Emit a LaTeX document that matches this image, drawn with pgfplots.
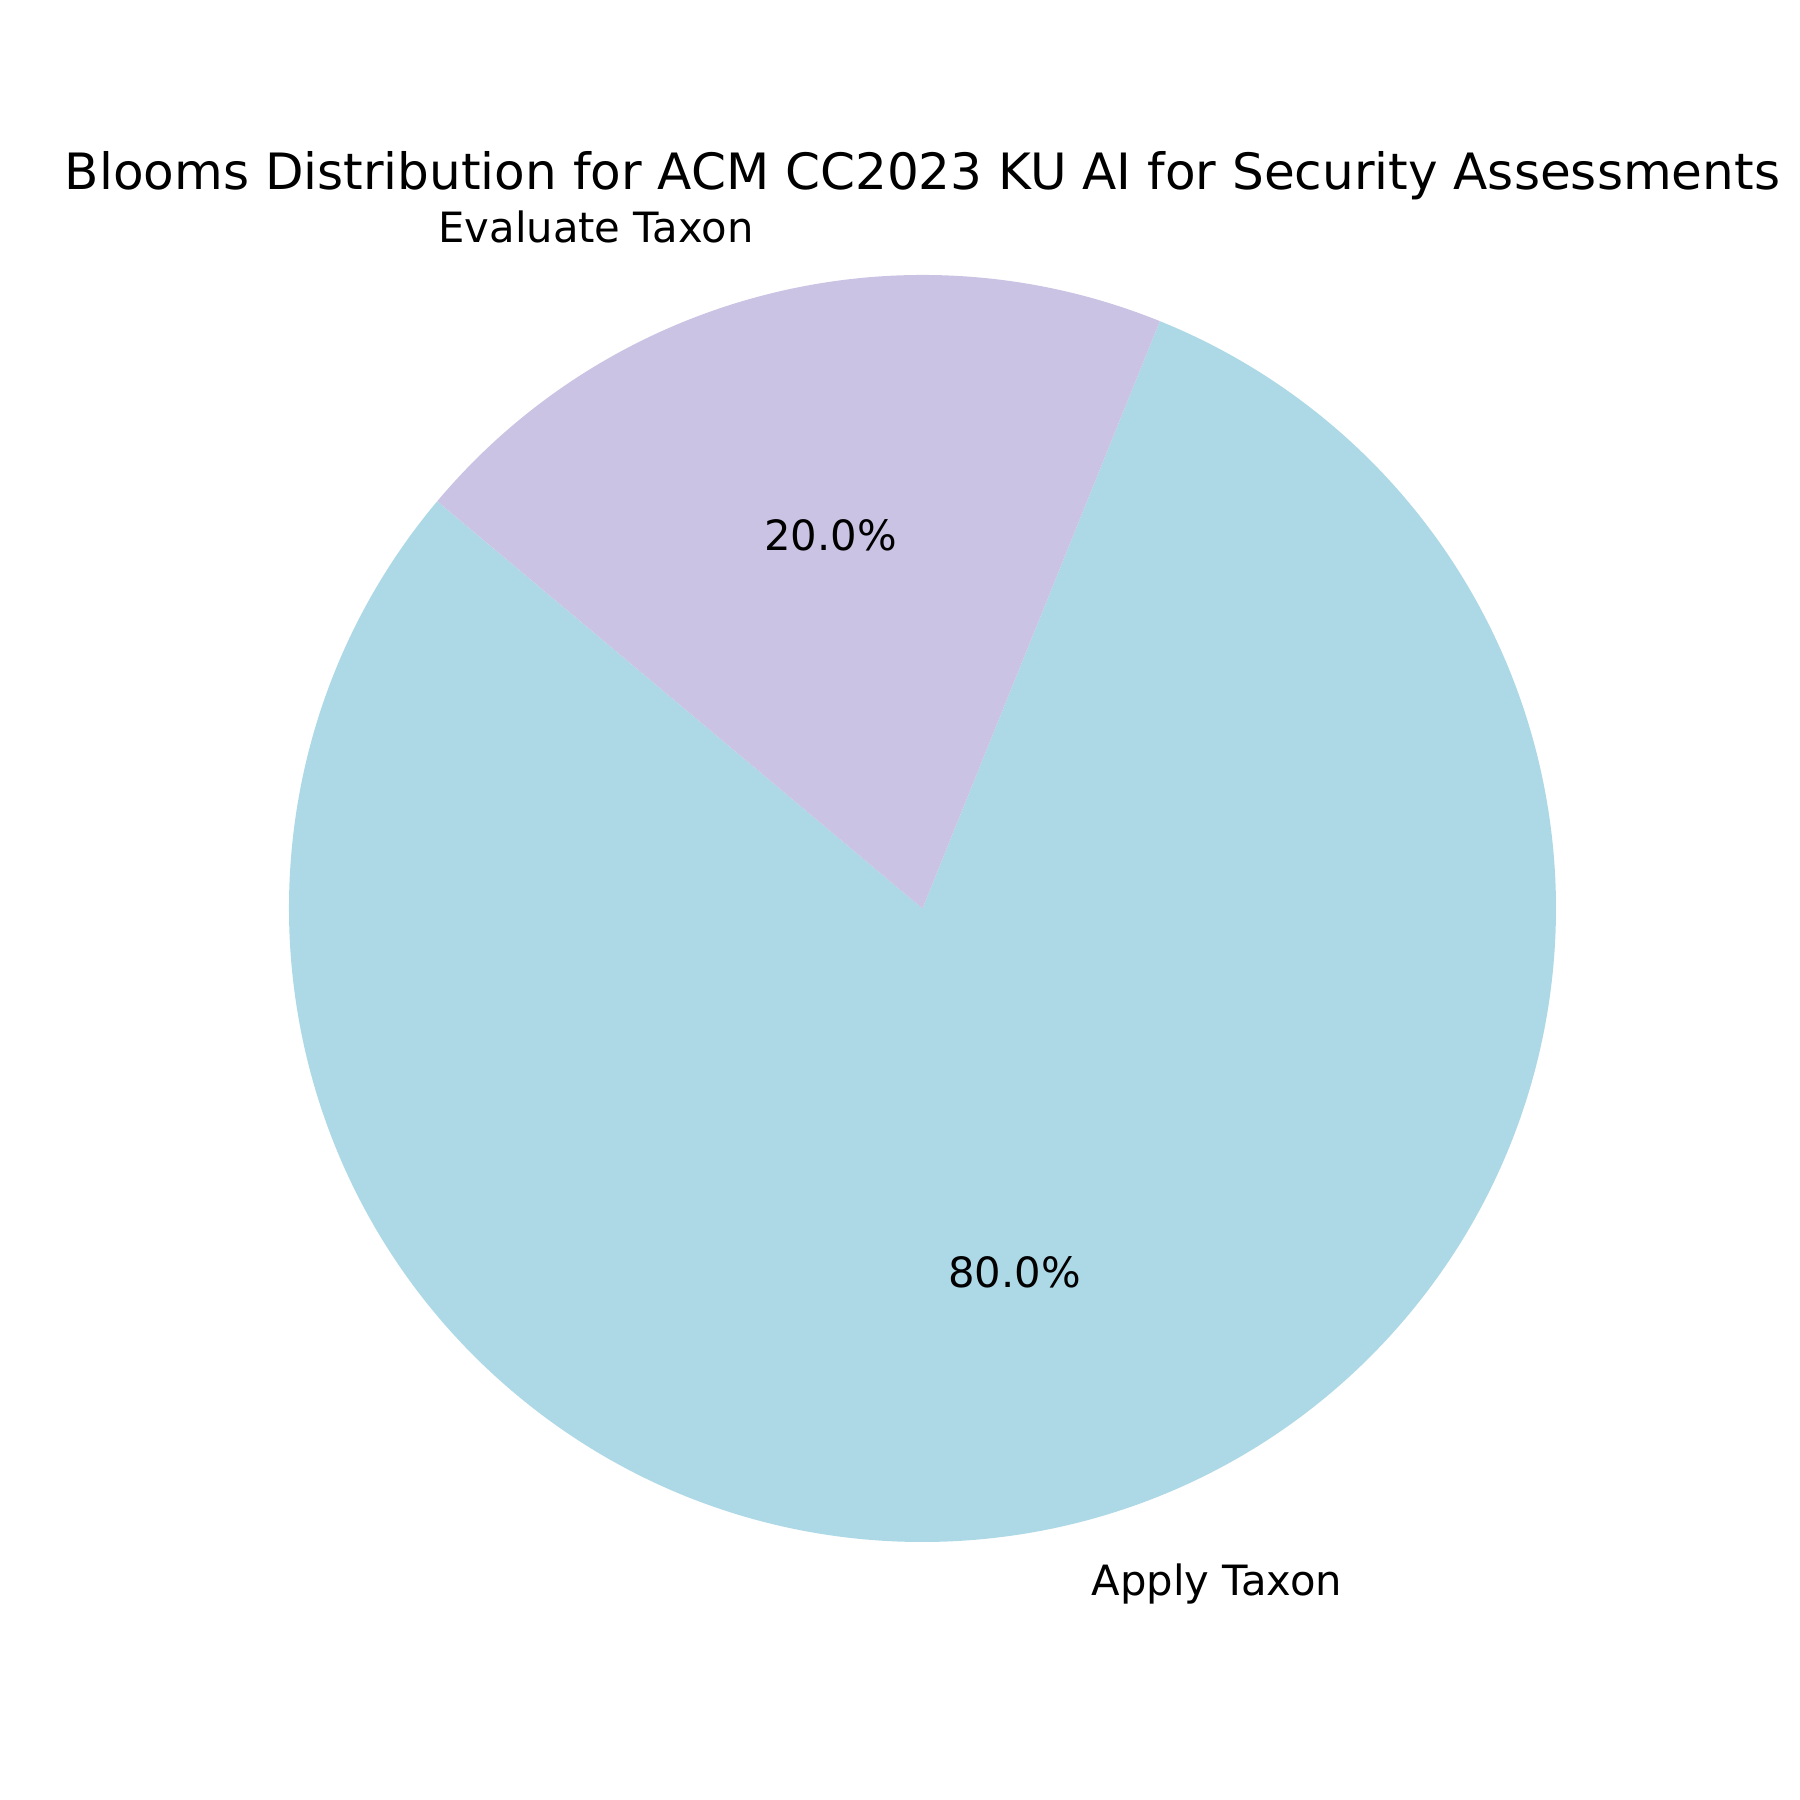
\documentclass[border=0pt]{standalone}
\usepackage{pgfplots}
\pgfplotsset{compat=1.18}
\usepackage{pgfplotstable}
\usepackage{fontspec}
\setmainfont{DejaVu Sans}

\definecolor{applyblue}{HTML}{ADD8E6}
\definecolor{evallav}{HTML}{CBC3E3}

\tikzset{
    lbl/.style={inner sep=0pt, text height=0.84em, text depth=0.16em,
        font=\fontsize{13.4}{16}\selectfont},
}
\pgfkeys{/pgf/number format/pct/.style={fixed, fixed zerofill, precision=1,
    assume math mode=true}}

% slice values (percent of outcomes)
\pgfplotstableread[col sep=comma]{
label,value
Apply Taxon,80
Evaluate Taxon,20
}\piedata

\begin{document}
\begin{tikzpicture}
% angles from the table, start at 140 deg, counterclockwise
\pgfplotstablegetelem{0}{value}\of\piedata \pgfmathsetmacro\va{\pgfplotsretval}
\pgfplotstablegetelem{1}{value}\of\piedata \pgfmathsetmacro\vb{\pgfplotsretval}
\pgfplotstablegetelem{0}{label}\of\piedata \let\la\pgfplotsretval
\pgfplotstablegetelem{1}{label}\of\piedata \let\lb\pgfplotsretval
\pgfmathsetmacro\tot{\va+\vb}
\pgfmathsetmacro\fa{\va/\tot}
\pgfmathsetmacro\fb{\vb/\tot}
\pgfmathsetmacro\aS{140}
\pgfmathsetmacro\aM{\aS+360*\fa}
\pgfmathsetmacro\aE{\aM+360*\fb}
\pgfmathsetmacro\ma{(\aS+\aM)/2}
\pgfmathsetmacro\mb{(\aM+\aE)/2}
\pgfmathsetmacro\pa{100*\fa}
\pgfmathsetmacro\pb{100*\fb}
\def\R{7.1515cm}
\begin{axis}[
    hide axis,
    scale only axis,
    x=7.1515cm, y=7.1515cm,
    xmin=-1.4562, xmax=1.3852,
    ymin=-1.4073, ymax=1.4341,
    clip=false,
]
\path (rel axis cs:0,0) rectangle (rel axis cs:1,1);

\fill[applyblue] (axis cs:0,0) -- (axis cs:{cos(\aS)},{sin(\aS)})
    arc[start angle=\aS, end angle=\aM, radius=\R] -- cycle;
\fill[evallav] (axis cs:0,0) -- (axis cs:{cos(\aM)},{sin(\aM)})
    arc[start angle=\aM, end angle=\aE, radius=\R] -- cycle;

\node[lbl, anchor=west] at (axis cs:{1.1*cos(\ma)},{1.1*sin(\ma)}) {\la};
\node[lbl, anchor=east] at (axis cs:{1.1*cos(\mb)},{1.1*sin(\mb)}) {\lb};
\node[lbl, anchor=center] at (axis cs:{0.6*cos(\ma)},{0.6*sin(\ma)})
    {\pgfmathprintnumber[pct]{\pa}\%};
\node[lbl, anchor=center] at (axis cs:{0.6*cos(\mb)},{0.6*sin(\mb)})
    {\pgfmathprintnumber[pct]{\pb}\%};

\node[anchor=base, inner sep=0pt, font=\fontsize{16.08}{19}\selectfont]
    at (axis cs:0,1.1342)
    {Blooms Distribution for ACM CC2023 KU AI for Security Assessments};
\end{axis}
\end{tikzpicture}
\end{document}
